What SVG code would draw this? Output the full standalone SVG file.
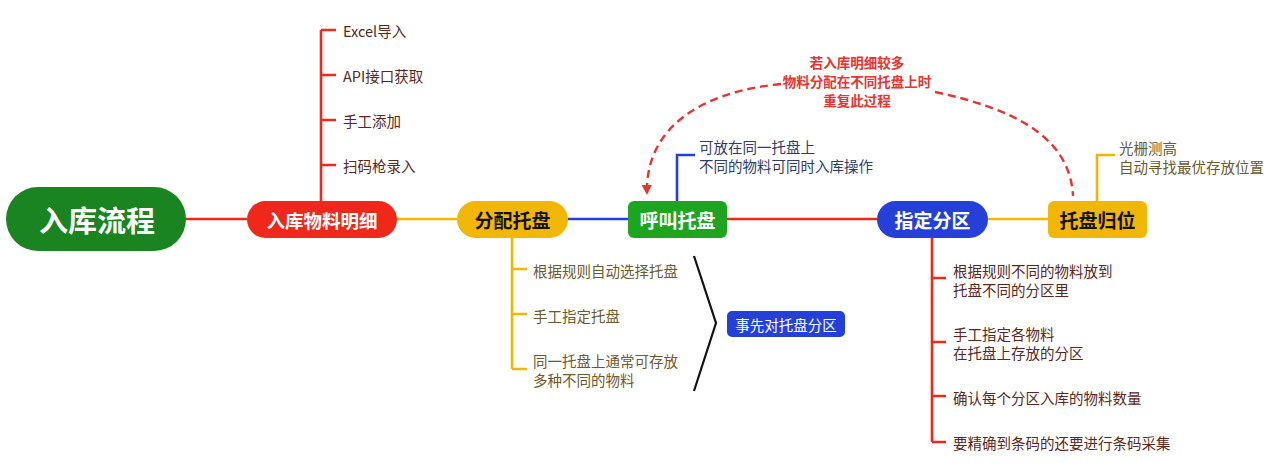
<svg xmlns="http://www.w3.org/2000/svg" width="1269" height="467" viewBox="0 0 1269 467">
<defs>
<style>
text{font-family:"Noto Sans CJK SC","Noto Sans",sans-serif;}
.main{font-weight:bold;text-anchor:middle;dominant-baseline:central;}
.leaf{font-size:14.5px;dominant-baseline:central;}
.red{fill:#5c261c;}
.olive{fill:#6b5a2e;}
.navy{fill:#2f3b6a;}
.ln{fill:none;stroke-width:2.6;}
</style>
<marker id="arr" viewBox="0 0 10 10" refX="9" refY="5" markerWidth="4.2" markerHeight="4.2" orient="auto" markerUnits="strokeWidth">
<path d="M0,0 L10,5 L0,10 Z" fill="#e8332f"/>
</marker>
</defs>
<rect width="1269" height="467" fill="#ffffff"/>
<g id="connectors">
<line class="ln" x1="186" y1="219" x2="247" y2="219" stroke="#f0281c"/>
<line class="ln" x1="396" y1="219" x2="457" y2="219" stroke="#f2b705"/>
<line class="ln" x1="568" y1="219" x2="628" y2="219" stroke="#2540d9"/>
<line class="ln" x1="727" y1="219" x2="877" y2="219" stroke="#f0281c"/>
<line class="ln" x1="988" y1="219" x2="1048" y2="219" stroke="#f2b705"/>
<path class="ln" stroke="#f0281c" d="M321 201 V30 M321 30 H336 M321 75 H336 M321 120 H336 M321 165 H336"/>
<path class="ln" stroke="#f2b705" d="M512 238 V369 M512 269 H527 M512 314 H527 M512 369 H527"/>
<path class="ln" stroke="#f0281c" d="M932 238 V442 M932 278 H946 M932 342 H946 M932 396 H946 M932 442 H946"/>
<path class="ln" stroke="#2540d9" d="M677 201 V155 H695"/>
<path class="ln" stroke="#f2b705" d="M1097 201 V155 H1115"/>
<path fill="none" stroke="#111" stroke-width="2.2" d="M694 256 L716 323 L694 391"/>
<path fill="none" stroke="#e8332f" stroke-width="2.4" stroke-dasharray="8 5" d="M781 84 C700 92 645 128 647 194" marker-end="url(#arr)"/>
<path fill="none" stroke="#e8332f" stroke-width="2.4" stroke-dasharray="8 5" d="M935 92 C1010 108 1070 135 1073 196"/>
</g>
<g id="root">
<rect x="6" y="187" width="180" height="64" rx="32" fill="#1a8520"/>
<text class="main" x="97" y="219" font-size="29" fill="#ffffff">入库流程</text>
</g>
<g id="n1">
<rect x="247" y="201" width="150" height="37" rx="18.5" fill="#f0281c"/>
<text class="main" x="322" y="219.5" font-size="18.5" fill="#ffffff">入库物料明细</text>
</g>
<g id="n1-items">
<text class="leaf red" x="343" y="30">Excel导入</text>
<text class="leaf red" x="343" y="75">API接口获取</text>
<text class="leaf red" x="343" y="120">手工添加</text>
<text class="leaf red" x="343" y="165">扫码枪录入</text>
</g>
<g id="n2">
<rect x="457" y="201" width="111" height="37" rx="18.5" fill="#f2b705"/>
<text class="main" x="512.5" y="219.5" font-size="19" fill="#111111">分配托盘</text>
</g>
<g id="n2-items">
<text class="leaf olive" x="533" y="270">根据规则自动选择托盘</text>
<text class="leaf olive" x="533" y="315">手工指定托盘</text>
<text class="leaf olive" x="533" y="360">同一托盘上通常可存放</text>
<text class="leaf olive" x="533" y="379">多种不同的物料</text>
</g>
<g id="pre">
<rect x="727" y="311" width="118" height="26" rx="5" fill="#2540d9"/>
<text x="786" y="324" font-size="14.5" fill="#ffffff" text-anchor="middle" dominant-baseline="central">事先对托盘分区</text>
</g>
<g id="n3">
<rect x="628" y="201" width="99" height="37" rx="6" fill="#1ea51f"/>
<text class="main" x="677.5" y="219.5" font-size="19" fill="#ffffff">呼叫托盘</text>
</g>
<g id="n3-items">
<text class="leaf navy" x="699" y="146">可放在同一托盘上</text>
<text class="leaf navy" x="699" y="165">不同的物料可同时入库操作</text>
</g>
<g id="loop-label">
<text x="857" y="62" font-size="13.5" font-weight="bold" fill="#e8332f" text-anchor="middle" dominant-baseline="central">若入库明细较多</text>
<text x="857" y="81" font-size="13.5" font-weight="bold" fill="#e8332f" text-anchor="middle" dominant-baseline="central">物料分配在不同托盘上时</text>
<text x="857" y="100" font-size="13.5" font-weight="bold" fill="#e8332f" text-anchor="middle" dominant-baseline="central">重复此过程</text>
</g>
<g id="n4">
<rect x="877" y="201" width="111" height="37" rx="18.5" fill="#2540d9"/>
<text class="main" x="932.5" y="219.5" font-size="19" fill="#ffffff">指定分区</text>
</g>
<g id="n4-items">
<text class="leaf red" x="953" y="270">根据规则不同的物料放到</text>
<text class="leaf red" x="953" y="289">托盘不同的分区里</text>
<text class="leaf red" x="953" y="333">手工指定各物料</text>
<text class="leaf red" x="953" y="352">在托盘上存放的分区</text>
<text class="leaf red" x="953" y="397">确认每个分区入库的物料数量</text>
<text class="leaf red" x="953" y="442">要精确到条码的还要进行条码采集</text>
</g>
<g id="n5">
<rect x="1048" y="201" width="99" height="37" rx="6" fill="#f2b705"/>
<text class="main" x="1097.5" y="219.5" font-size="19" fill="#111111">托盘归位</text>
</g>
<g id="n5-items">
<text class="leaf olive" x="1119" y="147">光栅测高</text>
<text class="leaf olive" x="1119" y="166">自动寻找最优存放位置</text>
</g>
</svg>
